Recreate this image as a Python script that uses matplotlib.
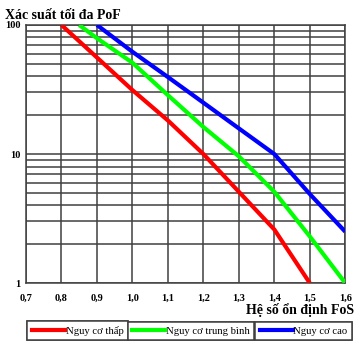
#!/usr/bin/env python3
# Biểu đồ xác suất tối đa PoF theo hệ số ổn định FoS
import matplotlib
matplotlib.use('Agg')
import matplotlib.pyplot as plt
from matplotlib.lines import Line2D
from matplotlib.ticker import FixedLocator, LogLocator, NullFormatter

# Dữ liệu
fos_low = [0.8, 0.9, 1.0, 1.1, 1.2, 1.3, 1.4, 1.5]
pof_low = [100, 56, 31.3, 18.2, 10, 5.1, 2.6, 1.0]

fos_mid = [0.85, 0.9, 1.0, 1.1, 1.2, 1.3, 1.4, 1.5, 1.6]
pof_mid = [100, 79, 51, 28.6, 16.2, 9.6, 5.1, 2.3, 1.0]

fos_high = [0.9, 1.0, 1.1, 1.2, 1.3, 1.4, 1.5, 1.6]
pof_high = [100, 62, 39.5, 25, 15.8, 10, 4.9, 2.5]

x_ticks = [0.7, 0.8, 0.9, 1.0, 1.1, 1.2, 1.3, 1.4, 1.5, 1.6]
x_labels = ['0,7', '0,8', '0,9', '1,0', '1,1', '1,2', '1,3', '1,4', '1,5', '1,6']
y_ticks = [1, 10, 100]
y_labels = ['1', '10', '100']
names = ['Nguy cơ thấp', 'Nguy cơ trung bình', 'Nguy cơ cao']
colors = ['#ff0000', '#00ff00', '#0000ff']

plt.rcParams['font.family'] = ['Liberation Serif', 'DejaVu Serif']

fig = plt.figure(figsize=(3.64, 3.52), dpi=100)
ax = fig.add_axes([0.0714, 0.196, 0.877, 0.733])

for xs, ys, c in [(fos_low, pof_low, colors[0]), (fos_mid, pof_mid, colors[1]),
                  (fos_high, pof_high, colors[2])]:
    ax.plot(xs, ys, color=c, lw=3, solid_capstyle='butt', zorder=3)

ax.set_yscale('log')
ax.set_xlim(0.7, 1.6)
ax.set_ylim(1, 100)
ax.xaxis.set_major_locator(FixedLocator(x_ticks))
ax.set_xticklabels(x_labels, fontweight='bold', fontsize=7.5)
ax.yaxis.set_major_locator(FixedLocator(y_ticks))
ax.set_yticklabels(y_labels, fontweight='bold', fontsize=7.5)
ax.yaxis.set_minor_locator(LogLocator(base=10, subs=range(2, 10)))
ax.yaxis.set_minor_formatter(NullFormatter())
ax.tick_params(axis='both', which='both', length=0)
ax.tick_params(axis='x', pad=8)
ax.tick_params(axis='y', pad=4)
ax.grid(True, which='both', color='#404040', lw=1.1)
for s in ax.spines.values():
    s.set_color('#404040')
    s.set_linewidth(1.1)

fig.text(0.014, 0.975, 'Xác suất tối đa PoF', fontsize=10, fontweight='bold',
         ha='left', va='top')
fig.text(0.972, 0.118, 'Hệ số ổn định FoS', fontsize=10, fontweight='bold',
         ha='right', va='center')

# Chú thích: ba ô riêng biệt
centers = [0.213, 0.524, 0.834]
for name, c, cx in zip(names, colors, centers):
    h = Line2D([], [], color=c, lw=3)
    leg = fig.legend([h], [name], loc='center', bbox_to_anchor=(cx, 0.06),
                     fontsize=7.7, handlelength=3.1, handletextpad=0.05,
                     borderpad=0.42, borderaxespad=0, fancybox=False,
                     framealpha=1, edgecolor='#404040')
    leg.get_frame().set_linewidth(1.1)
    fig.add_artist(leg)

fig.savefig('out.png', dpi=100)
